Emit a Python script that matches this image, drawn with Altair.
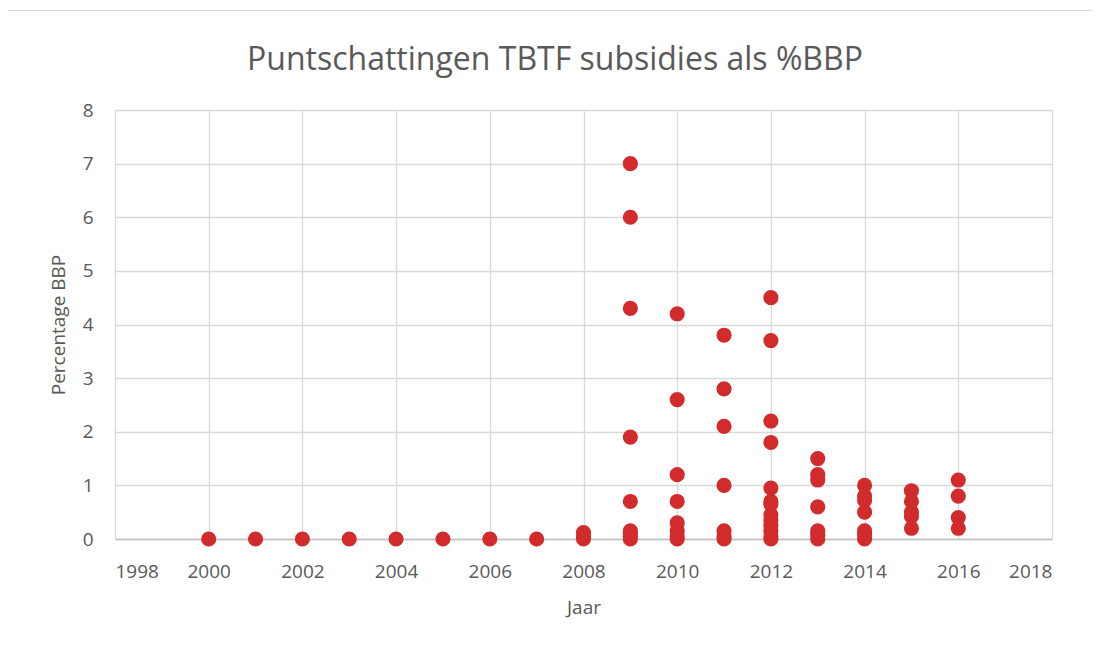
import altair as alt
import pandas as pd

years = [2000, 2001, 2002, 2003, 2004, 2005, 2006, 2007]
zero_vals = [0, 0, 0, 0, 0, 0, 0, 0]

pts = {
    2008: [0, 0.05, 0.12],
    2009: [7.0, 6.0, 4.3, 1.9, 0.7, 0.15, 0.1, 0.05, 0],
    2010: [4.2, 2.6, 1.2, 0.7, 0.3, 0.15, 0.05, 0],
    2011: [3.8, 2.8, 2.1, 1.0, 0.15, 0.05, 0],
    2012: [4.5, 3.7, 2.2, 1.8, 0.95, 0.7, 0.65, 0.45, 0.35, 0.25, 0.15, 0.05, 0],
    2013: [1.5, 1.2, 1.1, 0.6, 0.15, 0.08, 0],
    2014: [1.0, 0.8, 0.72, 0.5, 0.15, 0.08, 0],
    2015: [0.9, 0.7, 0.5, 0.42, 0.2],
    2016: [1.1, 0.8, 0.4, 0.2],
}

title_text = "Puntschattingen TBTF subsidies als %BBP"

rows = [{"Jaar": y, "v": v} for y, v in zip(years, zero_vals)]
for y, vals in pts.items():
    for v in vals:
        rows.append({"Jaar": y, "v": v})
df = pd.DataFrame(rows)

FONT = "Open Sans"
GRAY = "#595959"

points = alt.Chart(df).mark_circle(size=230, opacity=1, color="#D22B2B").encode(
    x=alt.X("Jaar:Q", scale=alt.Scale(domain=[1998, 2018], nice=False),
            axis=alt.Axis(values=list(range(1998, 2019, 2)), format="d", title="Jaar",
                          grid=True, gridColor="#d9d9d9", gridWidth=1.3,
                          domainColor="#bfbfbf", domainWidth=1.3, ticks=False,
                          labelFontSize=19, labelColor=GRAY, labelFont=FONT, labelPadding=23,
                          titleFontSize=19, titleColor=GRAY, titleFont=FONT, titleFontWeight="normal",
                          titlePadding=17)),
    y=alt.Y("v:Q", scale=alt.Scale(domain=[0, 8], nice=False),
            axis=alt.Axis(values=list(range(0, 9)), title="Percentage BBP",
                          grid=True, gridColor="#d9d9d9", gridWidth=1.3,
                          domain=False, ticks=False,
                          labelFontSize=19, labelColor=GRAY, labelFont=FONT, labelPadding=22,
                          titleFontSize=19, titleColor=GRAY, titleFont=FONT, titleFontWeight="normal",
                          titlePadding=14)),
)

border = alt.Chart(pd.DataFrame({"a": [0]})).mark_rect(
    fill=None, stroke="#d9d9d9", strokeWidth=1.2
).encode(x=alt.value(-107.5), x2=alt.value(1000), y=alt.value(-99.5), y2=alt.value(560))

title = alt.Chart(pd.DataFrame({"t": [title_text]})).mark_text(
    fontSize=32, font=FONT, color=GRAY, align="center", baseline="middle"
).encode(text="t:N", x=alt.value(440), y=alt.value(-50))

chart = alt.layer(border, points, title).properties(
    width=937, height=429,
    autosize=alt.AutoSizeParams(type="none"),
    padding={"left": 107, "top": 102, "right": 40, "bottom": 106},
).configure_view(stroke=None)

chart.save("out.html", embed_options={"renderer": "svg", "actions": False})
